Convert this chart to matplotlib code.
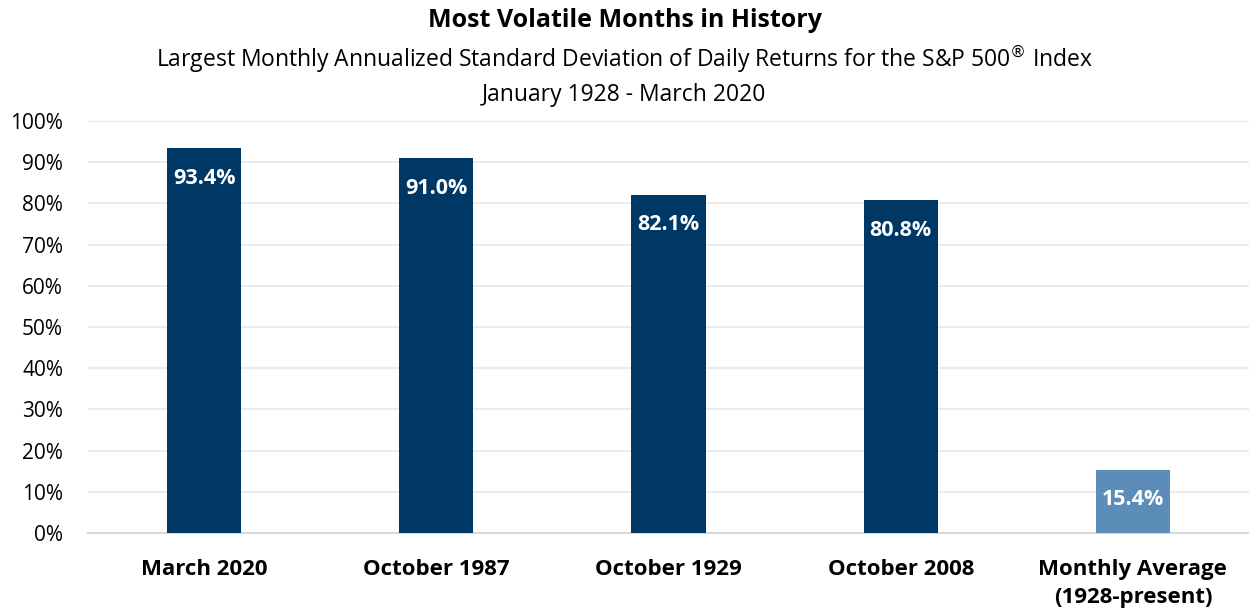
import numpy as np
import matplotlib
matplotlib.use("Agg")
import matplotlib.pyplot as plt

plt.rcParams['font.family'] = ['Open Sans', 'DejaVu Sans']

categories = ["March 2020", "October 1987", "October 1929", "October 2008",
              "Monthly Average\n(1928-present)"]
values = [93.4, 91.0, 82.1, 80.8, 15.4]
colors = ["#003865", "#003865", "#003865", "#003865", "#5B8DB8"]

fig = plt.figure(figsize=(12.49, 6.16), dpi=100)
ax = fig.add_axes([0.0705, 0.1347, 0.9295, 0.6689])

x = np.arange(len(categories))
bars = ax.bar(x, values, width=0.32, color=colors, zorder=3)

# value labels sit inside the top of each bar
for b, v in zip(bars, values):
    ax.annotate(f"{v:.1f}%", xy=(b.get_x() + b.get_width() / 2, v),
                xytext=(0, -30), textcoords="offset pixels",
                ha="center", va="center", color="white", fontsize=15.5,
                fontweight="bold", zorder=4)

ax.set_xlim(-0.5, 4.5)
ax.set_ylim(0, 100)
ax.set_yticks(np.arange(0, 101, 10))
ax.set_yticklabels([f"{t}%" for t in range(0, 101, 10)], fontsize=15)
ax.set_xticks(x)
ax.set_xticklabels(categories, fontsize=16, fontweight="bold", linespacing=1.4)
ax.tick_params(axis="both", length=0)
ax.tick_params(axis="x", pad=19)
ax.tick_params(axis="y", pad=18)

ax.grid(axis="y", color="#EBEBEB", linewidth=1.5, zorder=0)
for s in ["top", "right", "left"]:
    ax.spines[s].set_visible(False)
ax.spines["bottom"].set_color("#D9D9D9")
ax.spines["bottom"].set_linewidth(1.5)

fig.text(0.5, 0.967, "Most Volatile Months in History", ha="center", va="center",
         fontsize=18, fontweight="bold")
fig.text(0.5, 0.903, "Largest Monthly Annualized Standard Deviation of Daily Returns for the S&P 500$^{®}$ Index",
         ha="center", va="center", fontsize=16.5)
fig.text(0.5, 0.846, "January 1928 - March 2020", ha="center", va="center", fontsize=16.5)

fig.savefig("out.png", dpi=100)
